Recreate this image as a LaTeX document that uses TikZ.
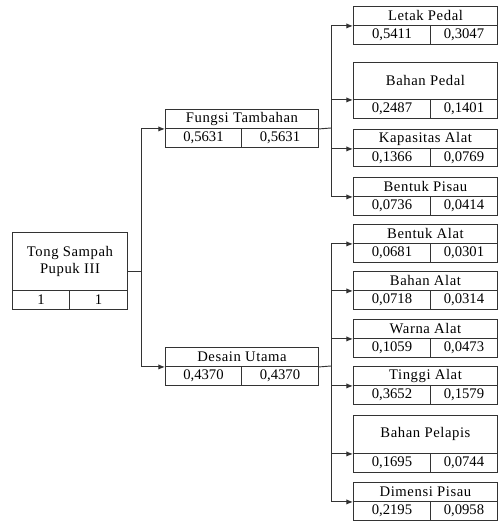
\documentclass[tikz,border=0pt]{standalone}
\usepackage{fontspec}
\setmainfont{Liberation Serif}
\newfontfamily\hurufjudul[LetterSpace=4]{Liberation Serif}
\usetikzlibrary{arrows.meta}

\begin{document}
\begin{tikzpicture}[x=0.75pt,y=-0.75pt,font=\rmfamily\fontsize{11}{13}\selectfont,
 line width=0.7pt,draw=black!80,
 every node/.style={draw=black!80,inner sep=0pt,anchor=north west,align=center},
 sel/.style 2 args={minimum width=#1*0.75pt,minimum height=(#2)*0.75pt},
 judul/.style={font=\hurufjudul\fontsize{11}{13}\selectfont},
 panah/.style={-{Latex[length=5pt,width=4pt]}}]
\useasboundingbox (0,0) rectangle (500,521);

% akar
\node[sel={115}{58},judul] (rt) at (12,232) {Tong Sampah\\Pupuk III};
\node[sel={57}{19}] (rt1) at (12,290) {1};
\node[sel={58}{19}] (rt2) at (69,290) {1};

% kriteria
\node[sel={153}{19},judul] (ft) at (165,109) {Fungsi Tambahan};
\node[sel={76}{19}] (ft1) at (165,128) {0,5631};
\node[sel={77}{19}] (ft2) at (241,128) {0,5631};
\node[sel={153}{19},judul] (du) at (165,347) {Desain Utama};
\node[sel={76}{19}] (du1) at (165,366) {0,4370};
\node[sel={77}{19}] (du2) at (241,366) {0,4370};

% sub kriteria
\foreach \nm/\ta/\tb/\tc/\jd/\va/\vb in {
  lp/6/25/44/Letak Pedal/0{,}5411/0{,}3047,
  bp/62/99/118/Bahan Pedal/0{,}2487/0{,}1401,
  ka/129/148/166/Kapasitas Alat/0{,}1366/0{,}0769,
  bps/177/196/215/Bentuk Pisau/0{,}0736/0{,}0414,
  ba/224/243/262/Bentuk Alat/0{,}0681/0{,}0301,
  bal/271/290/309/Bahan Alat/0{,}0718/0{,}0314,
  wa/319/338/357/Warna Alat/0{,}1059/0{,}0473,
  ta/366/385/404/Tinggi Alat/0{,}3652/0{,}1579,
  bpl/415/453/472/Bahan Pelapis/0{,}1695/0{,}0744,
  dp/482/501/520/Dimensi Pisau/0{,}2195/0{,}0958}{
  \node[sel={144}{\tb-\ta},judul] (\nm) at (353,\ta) {\jd};
  \node[sel={77}{\tc-\tb}] (\nm1) at (353,\tb) {\va};
  \node[sel={67}{\tc-\tb}] (\nm2) at (430,\tb) {\vb};
}

% garis
\coordinate (rtj) at (141,271);
\coordinate (ftj) at (331,128);
\coordinate (duj) at (331,366);
\draw (rtj -| rt.east) -- (rtj);
\draw[panah] (rtj) |- (ft.south west);
\draw[panah] (rtj) |- (du.south west);
\draw (ft.south east) -- (ftj);
\draw (du.south east) -- (duj);
\foreach \nm in {lp,bp,ka,bps}
  \draw[panah] (ftj) |- (\nm.south west);
\foreach \nm in {ba,bal,wa,ta,bpl,dp}
  \draw[panah] (duj) |- (\nm.south west);
\end{tikzpicture}
\end{document}
